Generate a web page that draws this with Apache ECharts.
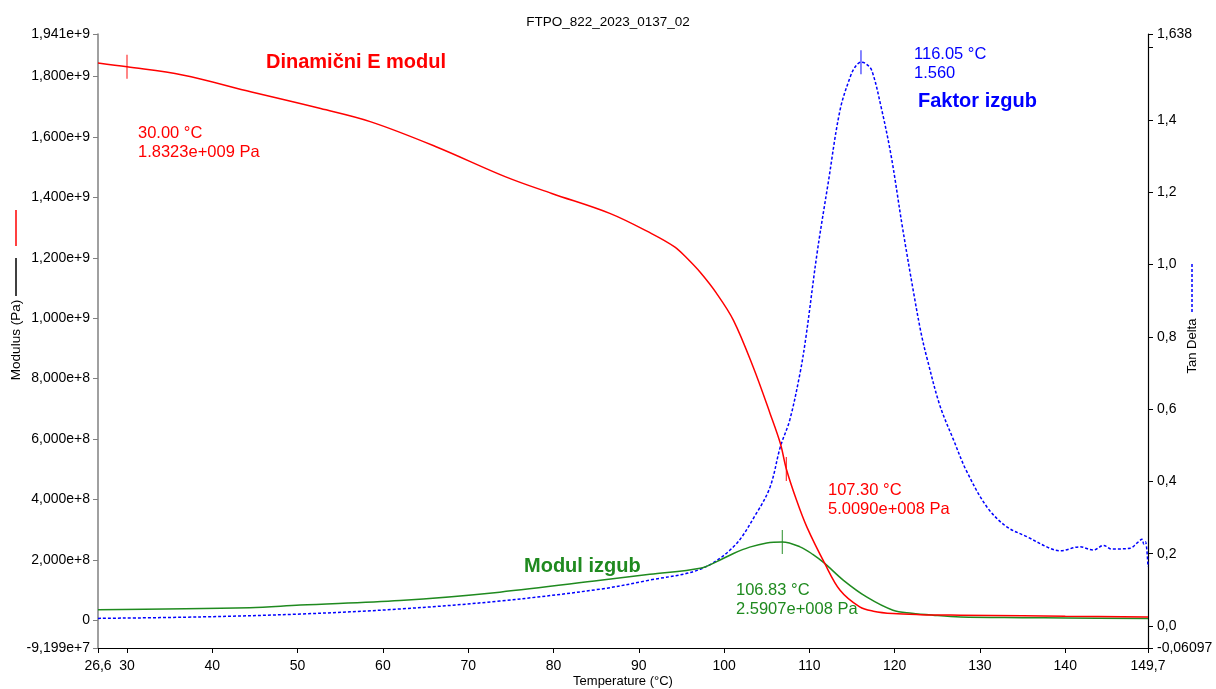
<!DOCTYPE html>
<html>
<head>
<meta charset="utf-8">
<script src="https://cdn.jsdelivr.net/npm/echarts@6/dist/echarts.min.js"></script>
<style>
html,body{margin:0;padding:0;background:#fff;}
#c{width:1216px;height:689px;}
</style>
</head>
<body>
<div id="c"></div>
<script>
// ---- data ----
const chartTitle = 'FTPO_822_2023_0137_02';
const xTickLabels = [26.6, 30, 40, 50, 60, 70, 80, 90, 100, 110, 120, 130, 140, 149.7];
const leftTickLabels = [-9.199e7, 0, 2e8, 4e8, 6e8, 8e8, 1e9, 1.2e9, 1.4e9, 1.6e9, 1.8e9, 1.941e9];
const rightTickLabels = [-0.06097, 0, 0.2, 0.4, 0.6, 0.8, 1.0, 1.2, 1.4, 1.638];
const rightTicks = [-0.06097, 0, 0.2, 0.4, 0.6, 0.8, 1.0, 1.2, 1.4, 1.6, 1.638];

const storageT = [26.6, 30, 36.5, 44.6, 52.7, 58.6, 66.3, 74.4, 79.8, 86.6, 91.5, 94.2, 95.6, 97.2, 99.1, 101.1, 103.4, 105.4, 106.6, 107.3, 108.5, 109.7, 111.8, 113.6, 115.9, 117.5, 119.8, 123.0, 127.7, 135, 140, 149.7];
const storageE = [1.845e9, 1.8323e9, 1.805e9, 1.749e9, 1.694e9, 1.650e9, 1.567e9, 1.468e9, 1.413e9, 1.347e9, 1.280e9, 1.236e9, 1.200e9, 1.152e9, 1.083e9, 9.93e8, 8.39e8, 6.84e8, 5.85e8, 5.009e8, 3.97e8, 3.09e8, 1.88e8, 9.9e7, 4.4e7, 3.0e7, 2.2e7, 1.85e7, 1.66e7, 1.45e7, 1.3e7, 1.05e7];

const lossT = [26.6, 44.4, 50.3, 62, 73.7, 85.5, 91.3, 97.2, 99.2, 101.1, 103.0, 105.0, 106.83, 108.9, 110.4, 111.8, 114.0, 116.7, 119.8, 122.0, 124.5, 127.7, 135, 140, 149.7];
const lossE = [3.5e7, 4.1e7, 5.0e7, 6.5e7, 9.3e7, 1.32e8, 1.52e8, 1.72e8, 1.95e8, 2.21e8, 2.42e8, 2.56e8, 2.5907e8, 2.43e8, 2.18e8, 1.88e8, 1.32e8, 7.7e7, 3.3e7, 2.3e7, 1.66e7, 1.1e7, 8.5e6, 7.5e6, 6e6];

const tanT = [26.6, 38.6, 50.3, 62, 73.7, 85.5, 91.3, 97.2, 101.1, 103.8, 105.4, 106.6, 107.7, 108.9, 109.6, 110.9, 112.2, 113.6, 114.8, 115.4, 116.05, 116.6, 117.3, 118.4, 119.6, 120.9, 122.2, 123.1, 123.8, 125.3, 126.9, 128.4, 130.8, 133.1, 135.5, 138.2, 139.4, 141.7, 143.3, 144.5, 145.4, 147.6, 148.4, 149.0, 149.2, 149.4, 149.7];
const tanD = [0.021, 0.025, 0.033, 0.047, 0.069, 0.102, 0.127, 0.157, 0.219, 0.312, 0.385, 0.496, 0.570, 0.699, 0.80, 1.031, 1.225, 1.428, 1.52, 1.548, 1.560, 1.556, 1.538, 1.437, 1.299, 1.105, 0.925, 0.81, 0.74, 0.61, 0.515, 0.43, 0.33, 0.275, 0.247, 0.215, 0.208, 0.219, 0.210, 0.223, 0.213, 0.215, 0.229, 0.240, 0.227, 0.233, 0.164];

const storageMark = [30.00, 1.8323e9];
const storageMark2 = [107.30, 5.0090e8];
const lossMark = [106.83, 2.5907e8];
const tanMark = [116.05, 1.560];

// ---- chart ----
const zip = (a, b) => a.map((v, i) => [v, b[i]]);
const RED = '#ff0000', GREEN = '#1f8a1f', BLUE = '#0000ff';
const FONT = '"Liberation Sans", Arial, sans-serif';

const chart = echarts.init(document.getElementById('c'));
const option = {
  backgroundColor: '#fff',
  animation: false,
  title: {
    text: chartTitle, left: 'center', top: 10,
    textStyle: { fontFamily: FONT, fontSize: 13.5, fontWeight: 'normal', color: '#000' }
  },
  grid: { left: 98, right: 68, top: 34, bottom: 41, outerBoundsMode: 'none', containLabel: false },
  xAxis: {
    type: 'value', min: 26.6, max: 149.7,
    name: 'Temperature (°C)', nameLocation: 'middle', nameGap: 27, nameMoveOverlap: false,
    nameTextStyle: { fontFamily: FONT, fontSize: 13, color: '#000' },
    axisLine: { onZero: false, lineStyle: { color: '#000', width: 1.2 } },
    axisTick: { show: true, length: 5, customValues: xTickLabels, lineStyle: { color: '#000' } },
    axisLabel: {
      customValues: xTickLabels, margin: 11,
      fontFamily: FONT, fontSize: 14, color: '#000',
      formatter: v => String(v).replace('.', ',')
    },
    splitLine: { show: false }
  },
  yAxis: [
    {
      type: 'value', min: -9.199e7, max: 1.941e9, position: 'left',
      axisLine: { show: true, onZero: false, lineStyle: { color: '#808080', width: 1.5 } },
      axisTick: { show: true, length: 5, customValues: leftTickLabels, lineStyle: { color: '#808080' } },
      axisLabel: {
        customValues: leftTickLabels, margin: 8,
        fontFamily: FONT, fontSize: 14, color: '#000',
        formatter: v => v === 0 ? '0' : v.toExponential(3).replace('.', ',')
      },
      splitLine: { show: false }
    },
    {
      type: 'value', min: -0.06097, max: 1.638, position: 'right',
      axisLine: { show: true, onZero: false, lineStyle: { color: '#000', width: 1.2 } },
      axisTick: { show: true, length: 5, customValues: rightTicks, lineStyle: { color: '#000' } },
      axisLabel: {
        customValues: rightTickLabels, margin: 9,
        fontFamily: FONT, fontSize: 14, color: '#000',
        formatter: v => v === 0 ? '0,0' : (Number.isInteger(v) ? v + ',0' : String(v).replace('.', ','))
      },
      splitLine: { show: false }
    }
  ],
  series: [
    {
      type: 'line', name: 'E\'', data: zip(storageT, storageE), yAxisIndex: 0,
      showSymbol: false, smooth: 0.35,
      lineStyle: { color: RED, width: 1.5 }, z: 3
    },
    {
      type: 'line', name: 'E"', data: zip(lossT, lossE), yAxisIndex: 0,
      showSymbol: false, smooth: 0.35,
      lineStyle: { color: GREEN, width: 1.5 }, z: 2
    },
    {
      type: 'line', name: 'tan', data: zip(tanT, tanD), yAxisIndex: 1,
      showSymbol: false, smooth: 0.35,
      lineStyle: { color: BLUE, width: 1.5, type: [3, 2] }, z: 1
    },
    {
      type: 'scatter', yAxisIndex: 0, data: [storageMark, storageMark2],
      symbol: 'rect', symbolSize: [1.2, 24], itemStyle: { color: RED }, z: 5, silent: true
    },
    {
      type: 'scatter', yAxisIndex: 0, data: [lossMark],
      symbol: 'rect', symbolSize: [1.2, 24], itemStyle: { color: GREEN }, z: 5, silent: true
    },
    {
      type: 'scatter', yAxisIndex: 1, data: [tanMark],
      symbol: 'rect', symbolSize: [1.2, 24], itemStyle: { color: BLUE }, z: 5, silent: true
    }
  ],
  graphic: [
    // left axis name with legend strokes
    { type: 'text', x: 16, y: 340, rotation: Math.PI / 2,
      style: { text: 'Modulus (Pa)', font: '13.5px ' + FONT, fill: '#000', align: 'center', verticalAlign: 'middle' } },
    { type: 'line', shape: { x1: 16, y1: 258, x2: 16, y2: 296 }, style: { stroke: '#000', lineWidth: 1.5 } },
    { type: 'line', shape: { x1: 16, y1: 210, x2: 16, y2: 246 }, style: { stroke: RED, lineWidth: 1.5 } },
    // right axis name with legend stroke
    { type: 'text', x: 1192, y: 346, rotation: Math.PI / 2,
      style: { text: 'Tan Delta', font: '13px ' + FONT, fill: '#000', align: 'center', verticalAlign: 'middle' } },
    { type: 'line', shape: { x1: 1192, y1: 264, x2: 1192, y2: 312 }, style: { stroke: BLUE, lineWidth: 1.5, lineDash: [3, 2] } },
    // series names
    { type: 'text', x: 266, y: 62,
      style: { text: 'Dinamični E modul', font: 'bold 20px ' + FONT, fill: RED, verticalAlign: 'middle' } },
    { type: 'text', x: 918, y: 101,
      style: { text: 'Faktor izgub', font: 'bold 20px ' + FONT, fill: BLUE, verticalAlign: 'middle' } },
    { type: 'text', x: 524, y: 566,
      style: { text: 'Modul izgub', font: 'bold 20px ' + FONT, fill: GREEN, verticalAlign: 'middle' } },
    // point annotations
    { type: 'text', x: 138, y: 124,
      style: { text: '30.00 °C\n1.8323e+009 Pa', font: '16.5px ' + FONT, fill: RED, lineHeight: 19 } },
    { type: 'text', x: 914, y: 45,
      style: { text: '116.05 °C\n1.560', font: '16.5px ' + FONT, fill: BLUE, lineHeight: 19 } },
    { type: 'text', x: 828, y: 481,
      style: { text: '107.30 °C\n5.0090e+008 Pa', font: '16.5px ' + FONT, fill: RED, lineHeight: 19 } },
    { type: 'text', x: 736, y: 581,
      style: { text: '106.83 °C\n2.5907e+008 Pa', font: '16.5px ' + FONT, fill: GREEN, lineHeight: 19 } }
  ]
};
chart.setOption(option);
</script>
</body>
</html>
